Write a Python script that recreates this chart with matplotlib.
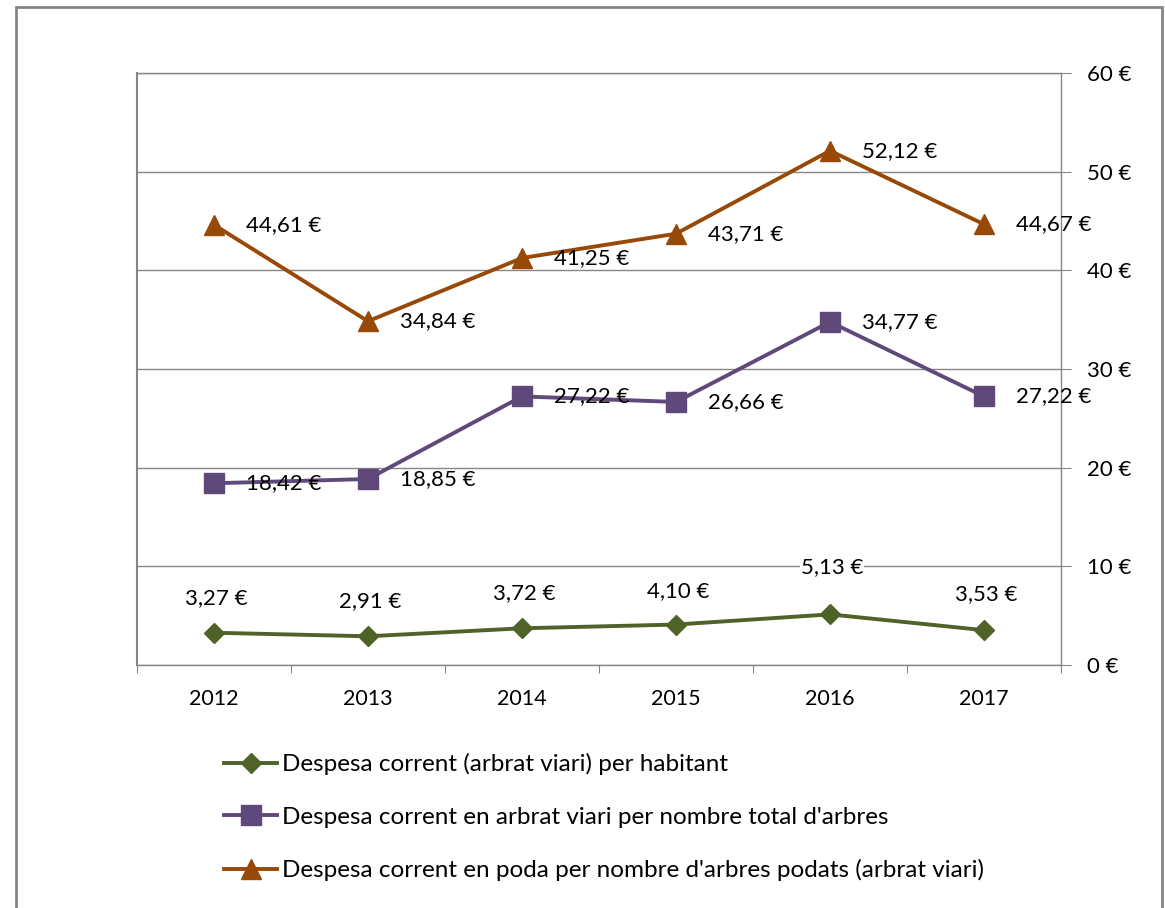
import matplotlib
matplotlib.use("Agg")
import matplotlib.pyplot as plt
from matplotlib.patches import Rectangle

# chart data
years = ["2012", "2013", "2014", "2015", "2016", "2017"]
per_habitant = [3.27, 2.91, 3.72, 4.10, 5.13, 3.53]
per_arbre = [18.42, 18.85, 27.22, 26.66, 34.77, 27.22]
per_poda = [44.61, 34.84, 41.25, 43.71, 52.12, 44.67]
y_ticks = [0, 10, 20, 30, 40, 50, 60]

labels = ["Despesa corrent (arbrat viari) per habitant",
          "Despesa corrent en arbrat viari per nombre total d'arbres",
          "Despesa corrent en poda per nombre d'arbres podats (arbrat viari)"]

# vertical offset (pt) of the green labels, the 2016 one sits higher
green_lift = [25, 25, 25, 24, 34, 26]

plt.rcParams['font.family'] = ['Lato', 'DejaVu Sans']
grey = '#868686'
fs = 16

def euro(v, dec=2):
    return f"{v:.{dec}f}".replace('.', ',') + " €"

fig = plt.figure(figsize=(11.65, 9.08), dpi=100)
ax = fig.add_axes([137/1165, 1 - 665/908, (1061-137)/1165, (665-73)/908])

x = list(range(len(years)))
l1, = ax.plot(x, per_habitant, color='#4F6228', lw=2.8, marker='D', ms=10, label=labels[0])
l2, = ax.plot(x, per_arbre, color='#5F497A', lw=2.8, marker='s', ms=14, label=labels[1])
l3, = ax.plot(x, per_poda, color='#984807', lw=2.8, marker='^', ms=14, label=labels[2])

# green labels sit above the points, the others to the right
for i, v in enumerate(per_habitant):
    ax.annotate(euro(v), (i, v), xytext=(1.5, green_lift[i]), textcoords='offset points',
                ha='center', va='center', fontsize=fs,
                bbox=dict(fc='white', ec='none', pad=0.5))
for vals in (per_arbre, per_poda):
    for i, v in enumerate(vals):
        ax.annotate(euro(v), (i, v), xytext=(23, 0), textcoords='offset points',
                    ha='left', va='center', fontsize=fs)

ax.set_xlim(-0.5, len(years) - 0.5)
ax.set_ylim(0, 60)

# tick marks between the categories, labels in the middle
ax.set_xticks([i - 0.5 for i in range(len(years) + 1)])
ax.set_xticklabels([])
ax.set_xticks(x, minor=True)
ax.set_xticklabels(years, minor=True, fontsize=15.5)
ax.tick_params(axis='x', which='major', length=6, color=grey, direction='out')
ax.tick_params(axis='x', which='minor', length=0, pad=17)

ax.yaxis.tick_right()
ax.set_yticks(y_ticks)
ax.set_yticklabels([euro(t, 0) for t in y_ticks], fontsize=fs)
ax.tick_params(axis='y', length=7, color=grey, pad=12)
ax.grid(axis='y', color=grey, lw=1)
ax.set_axisbelow(True)
for s in ax.spines.values():
    s.set_color(grey)
    s.set_linewidth(1)
ax.spines['left'].set_linewidth(1.5)

fig.legend(handles=[l1, l2, l3], loc='upper left', bbox_to_anchor=(224/1165, 1 - 753/908),
           frameon=False, fontsize=17.5, handlelength=2.2, handletextpad=0.2,
           labelspacing=1.3, borderaxespad=0, borderpad=0)

# outer chart border
fig.patches.append(Rectangle((16/1165, -0.05), (1162-16)/1165, 1.05 - 7/908,
                             transform=fig.transFigure, fill=False, ec=grey, lw=2))

fig.savefig("out.png", dpi=100)
